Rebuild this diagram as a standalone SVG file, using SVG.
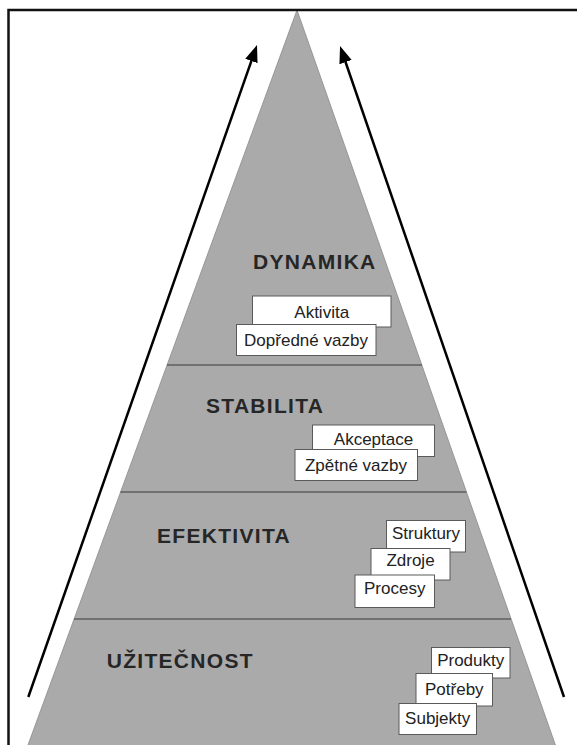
<svg xmlns="http://www.w3.org/2000/svg" width="577" height="745" viewBox="0 0 577 745">
<style>
.frame{fill:none;stroke:#111;stroke-width:2.5}
.pyr{fill:#aaaaaa;stroke:#8a8a8a;stroke-width:0.8}
.div{stroke:#5e5e5e;stroke-width:1.3}
.title{font-family:"Liberation Sans",Arial,sans-serif;font-weight:bold;font-size:21px;fill:#262626;letter-spacing:1.3px}
.box{fill:#fff;stroke:#5a5a5a;stroke-width:1}
.lbl{font-family:"Liberation Sans",Arial,sans-serif;font-size:17px;fill:#222;text-anchor:middle}
.arrow{stroke:#000;stroke-width:2.5;fill:none;marker-end:url(#ah)}
</style>
<defs>
<marker id="ah" markerUnits="userSpaceOnUse" viewBox="0 0 17 13" refX="7" refY="6.5" markerWidth="17" markerHeight="13" orient="auto">
<path d="M0,0 L17,6.5 L0,13 z" fill="#000"/>
</marker>
</defs>
<rect width="577" height="745" fill="#fff"/>
<g id="pyramid">
<polygon class="pyr" points="297,10 22.5,760 560.7,760"/>
<line class="div" x1="167" y1="365" x2="422" y2="365"/>
<line class="div" x1="120.5" y1="492" x2="466.5" y2="492"/>
<line class="div" x1="74" y1="619" x2="511" y2="619"/>
</g>
<g id="frame">
<path class="frame" d="M8.5,745 V10 H577"/>
</g>
<g id="dynamika">
<text class="title" x="253" y="269">DYNAMIKA</text>
<g id="aktivita"><rect class="box" x="252.5" y="296" width="138.5" height="31"/><text class="lbl" x="321.7" y="318">Aktivita</text></g>
<g id="dopredne-vazby"><rect class="box" x="236.5" y="324.5" width="139.5" height="31"/><text class="lbl" x="306" y="346">Dopředné vazby</text></g>
</g>
<g id="stabilita">
<text class="title" x="206" y="412.5">STABILITA</text>
<g id="akceptace"><rect class="box" x="312.5" y="425" width="122" height="31.5"/><text class="lbl" x="373.5" y="445">Akceptace</text></g>
<g id="zpetne-vazby"><rect class="box" x="295" y="449.5" width="122.5" height="31"/><text class="lbl" x="356" y="471">Zpětné vazby</text></g>
</g>
<g id="efektivita">
<text class="title" x="157" y="543">EFEKTIVITA</text>
<g id="struktury"><rect class="box" x="386.5" y="520.5" width="79" height="31.5"/><text class="lbl" x="426" y="538.5">Struktury</text></g>
<g id="zdroje"><rect class="box" x="371" y="548.5" width="79" height="31.5"/><text class="lbl" x="410.5" y="566">Zdroje</text></g>
<g id="procesy"><rect class="box" x="355" y="575" width="79.5" height="32.5"/><text class="lbl" x="394.7" y="593.5">Procesy</text></g>
</g>
<g id="uzitecnost">
<text class="title" x="106.7" y="668">UŽITEČNOST</text>
<g id="produkty"><rect class="box" x="431.5" y="647.5" width="78.5" height="30.5"/><text class="lbl" x="470.7" y="666">Produkty</text></g>
<g id="potreby"><rect class="box" x="416" y="673.5" width="76.5" height="32.5"/><text class="lbl" x="454.3" y="695">Potřeby</text></g>
<g id="subjekty"><rect class="box" x="399" y="703.5" width="77.5" height="31"/><text class="lbl" x="437.7" y="723.5">Subjekty</text></g>
</g>
<g id="connectors">
<line class="arrow" x1="28.3" y1="697" x2="253.7" y2="54.4"/>
<line class="arrow" x1="564" y1="697" x2="343.3" y2="55.5"/>
</g>
</svg>
